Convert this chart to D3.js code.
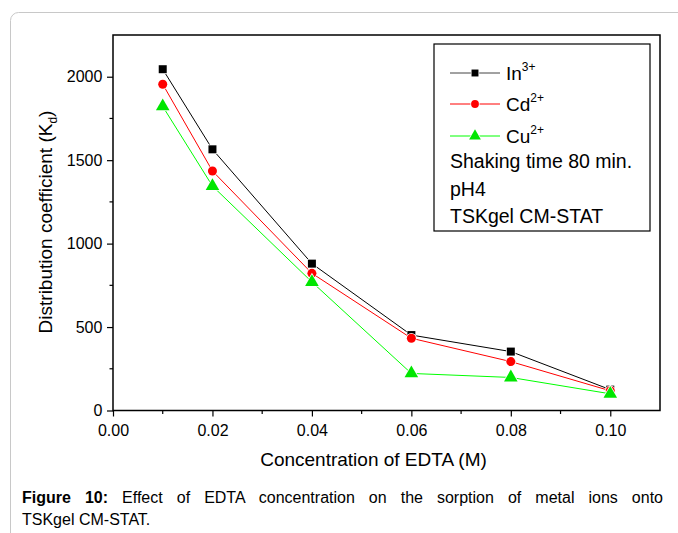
<!DOCTYPE html>
<html>
<head>
<meta charset="utf-8">
<script src="https://cdn.jsdelivr.net/npm/d3@7"></script>
<style>
  body { margin: 0; background: #fff; }
  text { font-family: "Liberation Sans", Arial, sans-serif; }
</style>
</head>
<body>
<svg id="chart" width="678" height="533"></svg>
<script>
// data
const edta = [0.01, 0.02, 0.04, 0.06, 0.08, 0.10];
const inKd = [2045, 1565, 880, 452, 353, 125];
const cdKd = [1955, 1435, 822, 433, 293, 118];
const cuKd = [1822, 1345, 770, 222, 198, 100];

const seriesNames = ['In', 'Cd', 'Cu'];
const seriesCharges = ['3+', '2+', '2+'];
const xTicks = [0, 0.02, 0.04, 0.06, 0.08, 0.10];
const yTicks = [0, 500, 1000, 1500, 2000];
const notes = ['Shaking time 80 min.', 'pH4', 'TSKgel CM-STAT'];

const svg = d3.select('#chart');

// card border
svg.append('rect')
  .attr('x', 10.5).attr('y', 12.5)
  .attr('width', 700).attr('height', 560)
  .attr('rx', 8)
  .attr('fill', 'none')
  .attr('stroke', '#c8c8c8')
  .attr('stroke-width', 1);

const plot = { left: 113, right: 660, top: 35, bottom: 410.5 };

const xScale = d3.scaleLinear().domain([0, 0.11]).range([plot.left, plot.right]);
const yScale = d3.scaleLinear().domain([0, 2250]).range([plot.bottom, plot.top]);

//AXES
const xAxis = d3.axisBottom(xScale)
  .tickValues(xTicks)
  .tickFormat(d3.format('.2f'))
  .tickSize(6)
  .tickSizeOuter(0);
const gx = svg.append('g')
  .attr('transform', `translate(0,${plot.bottom})`)
  .call(xAxis);

const yAxis = d3.axisLeft(yScale)
  .tickValues(yTicks)
  .tickFormat(d3.format('d'))
  .tickSize(6)
  .tickSizeOuter(0);
const gy = svg.append('g')
  .attr('transform', `translate(${plot.left},0)`)
  .call(yAxis);

// minor ticks
const xMinor = [0.01, 0.03, 0.05, 0.07, 0.09];
svg.append('g').selectAll('line').data(xMinor).enter().append('line')
  .attr('x1', (d) => xScale(d)).attr('x2', (d) => xScale(d))
  .attr('y1', plot.bottom).attr('y2', plot.bottom + 3.5)
  .attr('stroke', '#000').attr('stroke-width', 1.2);
const yMinor = [250, 750, 1250, 1750];
svg.append('g').selectAll('line').data(yMinor).enter().append('line')
  .attr('y1', (d) => yScale(d)).attr('y2', (d) => yScale(d))
  .attr('x1', plot.left).attr('x2', plot.left - 3.5)
  .attr('stroke', '#000').attr('stroke-width', 1.2);

[gx, gy].forEach((g) => {
  g.select('.domain').remove();
  g.selectAll('.tick line').attr('stroke', '#000').attr('stroke-width', 1.2);
  g.selectAll('.tick text')
    .style('font-family', '"Liberation Sans", Arial, sans-serif')
    .style('font-size', '16px')
    .attr('fill', '#000');
});
gx.selectAll('.tick text').attr('dy', '1.05em');
gy.selectAll('.tick text').attr('dx', '-0.1em');

// frame
svg.append('rect')
  .attr('x', plot.left).attr('y', plot.top)
  .attr('width', plot.right - plot.left)
  .attr('height', plot.bottom - plot.top)
  .attr('fill', 'none')
  .attr('stroke', '#000')
  .attr('stroke-width', 1.5);

// axis titles
svg.append('text')
  .attr('x', (plot.left + plot.right) / 2 - 13)
  .attr('y', 466)
  .attr('text-anchor', 'middle')
  .style('font-size', '19px')
  .text('Concentration of EDTA (M)');

const yTitle = svg.append('text')
  .attr('transform', 'rotate(-90)')
  .attr('x', -222)
  .attr('y', 52)
  .attr('text-anchor', 'middle')
  .style('font-size', '19px');
yTitle.append('tspan').text('Distribution coefficient (K');
yTitle.append('tspan').attr('dy', 5).style('font-size', '12px').text('d');
yTitle.append('tspan').attr('dy', -5).text(')');

//SERIES
const series = [
  { values: inKd, color: '#000', line: '#000', shape: d3.symbolSquare, size: 64 },
  { values: cdKd, color: '#ff0000', line: '#ff0000', shape: d3.symbolCircle, size: 64 },
  { values: cuKd, color: '#00e600', line: '#00ff00', shape: d3.symbolTriangle, size: 80 },
];

const path = d3.line()
  .x((d) => xScale(d.x))
  .y((d) => yScale(d.y));

series.forEach((s) => {
  const pts = edta.map((x, i) => ({ x: x, y: s.values[i] }));
  svg.append('path')
    .datum(pts)
    .attr('d', path)
    .attr('fill', 'none')
    .attr('stroke', s.line)
    .attr('stroke-width', 1);
  svg.append('g').selectAll('path').data(pts).enter().append('path')
    .attr('transform', (d) => `translate(${xScale(d.x)},${yScale(d.y)})`)
    .attr('d', d3.symbol().type(s.shape).size(s.size))
    .attr('fill', s.color)
    .attr('stroke', '#fff')
    .attr('stroke-width', 1.5)
    .attr('paint-order', 'stroke');
});

//LEGEND
const legend = svg.append('g');
legend.append('rect')
  .attr('x', 434).attr('y', 44)
  .attr('width', 216).attr('height', 187)
  .attr('fill', '#fff')
  .attr('stroke', '#000')
  .attr('stroke-width', 1.2);

const legendY = [73, 104, 136];
series.forEach((s, i) => {
  const y = legendY[i];
  legend.append('line')
    .attr('x1', 450).attr('x2', 500)
    .attr('y1', y).attr('y2', y)
    .attr('stroke', i === 0 ? '#444' : s.line)
    .attr('stroke-width', 1);
  legend.append('path')
    .attr('transform', `translate(475,${y})`)
    .attr('d', d3.symbol().type(s.shape).size(s.size * 0.75))
    .attr('fill', s.color)
    .attr('stroke', '#fff')
    .attr('stroke-width', 1.5)
    .attr('paint-order', 'stroke');
  const t = legend.append('text')
    .attr('x', 506).attr('y', y + 7)
    .style('font-size', '19px');
  t.append('tspan').text(seriesNames[i]);
  t.append('tspan').attr('dy', -9).style('font-size', '12px').text(seriesCharges[i]);
});

const noteY = [168, 196, 223];
notes.forEach((n, i) => {
  legend.append('text')
    .attr('x', 450).attr('y', noteY[i])
    .style('font-size', '19.5px')
    .text(n);
});

//CAPTION
const capRest = ' Effect of EDTA concentration on the sorption of metal ions onto';
const cap1 = svg.append('text')
  .attr('x', 22).attr('y', 503)
  .style('font-size', '16px');
cap1.append('tspan').style('font-weight', 'bold').text('Figure 10:');
cap1.append('tspan').text(capRest);
const wordGaps = 1 + (capRest.trim().split(' ').length - 1) + 1;
const extra = (663 - 22 - cap1.node().getComputedTextLength()) / wordGaps;
cap1.style('word-spacing', `${Math.max(0, extra)}px`);

svg.append('text')
  .attr('x', 22).attr('y', 525)
  .style('font-size', '16px')
  .text('TSKgel CM-STAT.');
</script>
</body>
</html>
